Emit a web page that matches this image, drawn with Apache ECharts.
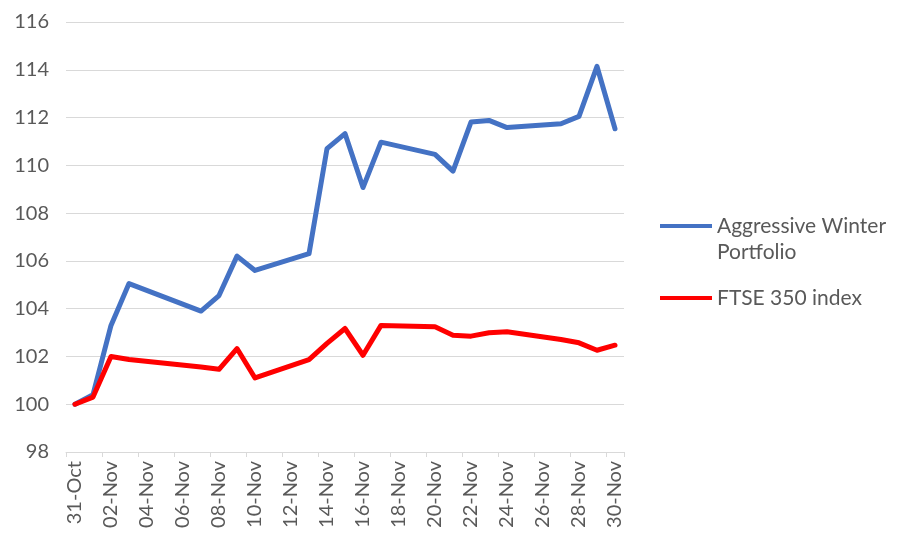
<!DOCTYPE html>
<html>
<head>
<meta charset="utf-8">
<script src="https://cdn.jsdelivr.net/npm/echarts@6/dist/echarts.min.js"></script>
<style>html,body{margin:0;padding:0;background:#fff;}#c{width:904px;height:546px;}</style>
</head>
<body>
<div id="c"></div>
<script>
const categories = ['31-Oct','01-Nov','02-Nov','03-Nov','04-Nov','05-Nov','06-Nov','07-Nov','08-Nov','09-Nov','10-Nov','11-Nov','12-Nov','13-Nov','14-Nov','15-Nov','16-Nov','17-Nov','18-Nov','19-Nov','20-Nov','21-Nov','22-Nov','23-Nov','24-Nov','25-Nov','26-Nov','27-Nov','28-Nov','29-Nov','30-Nov'];
const portfolio = [100, 100.4, 103.3, 105.05, null, null, null, 103.9, 104.55, 106.2, 105.6, null, null, 106.3, 110.7, 111.33, 109.07, 110.97, null, null, 110.46, 109.76, 111.81, 111.88, 111.58, null, null, 111.74, 112.05, 114.14, 111.53];
const ftse = [100, 100.3, 102.0, 101.87, null, null, null, 101.56, 101.46, 102.33, 101.1, null, null, 101.87, 102.55, 103.17, 102.05, 103.3, null, null, 103.24, 102.89, 102.85, 102.99, 103.03, null, null, 102.71, 102.57, 102.26, 102.47];
const seriesNames = ['Aggressive Winter Portfolio', 'FTSE 350 index'];
const yTicks = {min: 98, max: 116, interval: 2};

const FONT = 'Lato';
const chart = echarts.init(document.getElementById('c'), null, {renderer: 'canvas'});
chart.setOption({
  animation: false,
  backgroundColor: '#ffffff',
  grid: {left: 66, right: 280, top: 22, bottom: 94, containLabel: false},
  xAxis: {
    type: 'category',
    data: categories,
    boundaryGap: true,
    axisLine: {show: true, lineStyle: {color: '#D9D9D9', width: 1}},
    axisTick: {show: true, interval: 1, length: 5, lineStyle: {color: '#D9D9D9'}},
    axisLabel: {interval: 1, rotate: 90, color: '#595959', fontSize: 20, fontFamily: FONT, margin: 9},
    splitLine: {show: false}
  },
  yAxis: {
    type: 'value',
    min: yTicks.min, max: yTicks.max, interval: yTicks.interval,
    axisLine: {show: false},
    axisTick: {show: false},
    axisLabel: {color: '#595959', fontSize: 20, fontFamily: FONT, margin: 17},
    splitLine: {show: true, lineStyle: {color: '#D9D9D9', width: 1}}
  },
  legend: {
    orient: 'vertical',
    left: 655,
    top: 182,
    itemWidth: 52,
    itemHeight: 4,
    itemGap: 20,
    icon: 'rect',
    textStyle: {color: '#595959', fontSize: 21, fontFamily: FONT, lineHeight: 26},
    data: seriesNames,
    formatter: function (n) { return n === seriesNames[0] ? ' \nAggressive Winter\nPortfolio' : n; }
  },
  series: [
    {name: seriesNames[0], type: 'line', data: portfolio, connectNulls: true, symbol: 'none',
     lineStyle: {color: '#4472C4', width: 5, cap: 'round', join: 'round'}, itemStyle: {color: '#4472C4'}},
    {name: seriesNames[1], type: 'line', data: ftse, connectNulls: true, symbol: 'none',
     lineStyle: {color: '#FF0000', width: 5, cap: 'round', join: 'round'}, itemStyle: {color: '#FF0000'}}
  ]
});
</script>
</body>
</html>
